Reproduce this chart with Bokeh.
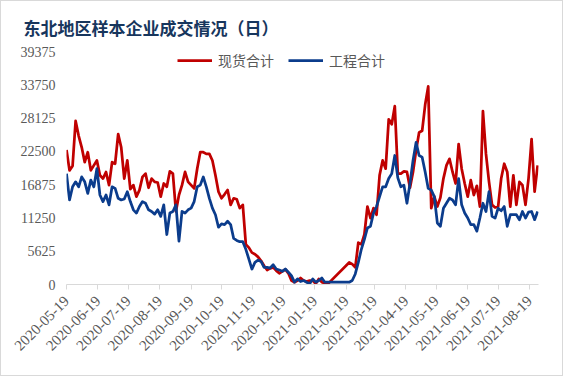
import math
import pandas as pd
from bokeh.plotting import figure
from bokeh.models import (ColumnDataSource, FixedTicker, Legend, LegendItem, Range1d,
                          NumeralTickFormatter, DatetimeTickFormatter)
from bokeh.embed import file_html
from bokeh.resources import INLINE

title_text = "东北地区样本企业成交情况（日）"
series_names = ["现货合计", "工程合计"]

dates = [
    "2020-05-19", "2020-05-22", "2020-05-25", "2020-05-28", "2020-05-31", "2020-06-03", "2020-06-06",
    "2020-06-09", "2020-06-12", "2020-06-15", "2020-06-18", "2020-06-21", "2020-06-24", "2020-06-27",
    "2020-06-30", "2020-07-03", "2020-07-06", "2020-07-09", "2020-07-12", "2020-07-15", "2020-07-18",
    "2020-07-21", "2020-07-24", "2020-07-27", "2020-07-30", "2020-08-02", "2020-08-05", "2020-08-08",
    "2020-08-11", "2020-08-14", "2020-08-17", "2020-08-20", "2020-08-23", "2020-08-26", "2020-08-29",
    "2020-09-01", "2020-09-04", "2020-09-07", "2020-09-10", "2020-09-13", "2020-09-16", "2020-09-19",
    "2020-09-22", "2020-09-25", "2020-09-28", "2020-10-01", "2020-10-04", "2020-10-07", "2020-10-10",
    "2020-10-13", "2020-10-16", "2020-10-19", "2020-10-22", "2020-10-25", "2020-10-28", "2020-10-31",
    "2020-11-03", "2020-11-06", "2020-11-09", "2020-11-12", "2020-11-15", "2020-11-18", "2020-11-21",
    "2020-11-24", "2020-11-27", "2020-11-30", "2020-12-03", "2020-12-06", "2020-12-09", "2020-12-12",
    "2020-12-15", "2020-12-18", "2020-12-21", "2020-12-24", "2020-12-27", "2020-12-30", "2021-01-02",
    "2021-01-05", "2021-01-08", "2021-01-11", "2021-01-14", "2021-01-17", "2021-01-20", "2021-01-23",
    "2021-01-26", "2021-01-29", "2021-02-01", "2021-02-22", "2021-02-25", "2021-02-28", "2021-03-03",
    "2021-03-06", "2021-03-09", "2021-03-12", "2021-03-15", "2021-03-18", "2021-03-21", "2021-03-24",
    "2021-03-27", "2021-03-30", "2021-04-02", "2021-04-05", "2021-04-08", "2021-04-11", "2021-04-14",
    "2021-04-17", "2021-04-20", "2021-04-23", "2021-04-26", "2021-04-29", "2021-05-02", "2021-05-05",
    "2021-05-08", "2021-05-11", "2021-05-14", "2021-05-17", "2021-05-20", "2021-05-23", "2021-05-26",
    "2021-05-29", "2021-06-01", "2021-06-04", "2021-06-07", "2021-06-10", "2021-06-13", "2021-06-16",
    "2021-06-19", "2021-06-22", "2021-06-25", "2021-06-28", "2021-07-01", "2021-07-04", "2021-07-07",
    "2021-07-10", "2021-07-13", "2021-07-16", "2021-07-19", "2021-07-22", "2021-07-25", "2021-07-28",
    "2021-07-31", "2021-08-03", "2021-08-06", "2021-08-09", "2021-08-12", "2021-08-15", "2021-08-18",
    "2021-08-21", "2021-08-24", "2021-08-27",
]

spot_total = [
    22740, 19290, 20020, 27640, 25130, 23190, 20680,
    22350, 19290, 20130, 20960, 18460, 17900, 19020,
    16790, 20680, 20410, 25410, 23190, 17900, 20960,
    16120, 16790, 14850, 15960, 18180, 18740, 16350,
    17900, 17350, 17240, 14850, 17070, 16510, 19130,
    18740, 12340, 15120, 16790, 19020, 17350, 16790,
    16240, 19570, 22350, 22350, 22070, 22070, 20960,
    18460, 15680, 14570, 15240, 15960, 13460, 14570,
    14400, 12900, 13460, 6780, 6230, 5390, 5120,
    4670, 4000, 3170, 2450, 2720, 2890, 2340,
    1890, 2220, 2560, 1890, 670, 390, 670,
    1110, 670, 500, 670, 670, 110, 950,
    390, 220, 110, 3730, 3450, 2890, 7060,
    6780, 8450, 13180, 11230, 12900, 11790, 18460,
    20960, 19570, 27910, 27080, 30140, 18740, 18740,
    19130, 19020, 16350, 19020, 22630, 25690, 25970,
    30410, 33470, 12900, 14850, 13180, 14680, 17900,
    20130, 21240, 19020, 17070, 23740, 19570, 17070,
    14850, 17630, 15120, 16680, 13180, 29300, 22070,
    17350, 13460, 13010, 13180, 17900, 20410, 19020,
    13180, 18460, 13460, 17350, 16790, 13460, 17900,
    24580, 15680, 20130,
]

project_total = [
    18740, 14290, 16510, 17350, 16510, 18180, 17350,
    15400, 17630, 16510, 19570, 15120, 14010, 15120,
    13460, 16510, 16240, 14570, 14290, 14460, 15680,
    14010, 12620, 12070, 13180, 14010, 13730, 12620,
    12340, 11900, 12620, 11510, 13460, 8450, 12070,
    12340, 13460, 7340, 12340, 12070, 12620, 12900,
    14010, 16510, 16790, 18180, 16510, 14570, 12900,
    11790, 9680, 10240, 10120, 10680, 10120, 7780,
    7450, 7230, 7230, 5950, 4280, 2610, 3730,
    4110, 3890, 2890, 2890, 2780, 3340, 2610,
    2450, 2220, 2610, 2060, 1500, 390, 950,
    500, 670, 390, 110, 950, 390, 670,
    1110, 390, 390, 390, 670, 1780, 3730,
    5950, 7620, 9560, 9840, 12070, 13180, 14850,
    16510, 16510, 17900, 18740, 21800, 18010, 16510,
    16790, 13730, 17070, 20960, 24020, 21800, 21520,
    19020, 16240, 15960, 14850, 10400, 9840, 12900,
    13730, 14570, 14290, 13460, 17900, 13460, 12070,
    11230, 10120, 10120, 9010, 11230, 13730, 12340,
    15680, 11510, 11230, 12900, 12450, 13180, 9840,
    11790, 11790, 11790, 10950, 12340, 11230, 12230,
    12340, 10950, 12340,
]

tick_labels = [
    "2020-05-19", "2020-06-19", "2020-07-19", "2020-08-19", "2020-09-19", "2020-10-19",
    "2020-11-19", "2020-12-19", "2021-01-19", "2021-02-19", "2021-03-19", "2021-04-19",
    "2021-05-19", "2021-06-19", "2021-07-19", "2021-08-19",
]
y_ticks = [0, 5625, 11250, 16875, 22500, 28125, 33750, 39375]

x_vals = pd.to_datetime(dates)
src = ColumnDataSource(dict(x=x_vals, spot=spot_total, proj=project_total))

x_start = pd.Timestamp(tick_labels[0])
x_end = pd.Timestamp(dates[-1]) + pd.Timedelta(hours=20)

p = figure(width=563, height=376, x_axis_type="datetime",
           x_range=Range1d(x_start, x_end), y_range=Range1d(0, y_ticks[-1]),
           output_backend="svg", toolbar_location=None,
           min_border_left=65, min_border_right=26, min_border_top=47, min_border_bottom=93)
p.styles = {"border": "1px solid #D9D9D9"}
p.outline_line_color = None
p.xgrid.visible = False
p.ygrid.visible = False
p.background_fill_color = "white"
p.border_fill_color = "white"

p.title.text = title_text
p.title.align = "left"
p.title.offset = -43
p.title.standoff = 23
p.title.text_font = "Noto Sans CJK SC"
p.title.text_font_style = "bold"
p.title.text_font_size = "17px"
p.title.text_color = "#17365D"

RED = "#C00000"
BLUE = "#0B3C8C"
r1 = p.line("x", "spot", source=src, line_color=RED, line_width=2.75, line_join="round")
r2 = p.line("x", "proj", source=src, line_color=BLUE, line_width=2.75, line_join="round")

tick_ms = [int(pd.Timestamp(t).value // 10**6) for t in tick_labels]
p.xaxis.ticker = FixedTicker(ticks=tick_ms)
fmt = "%Y-%m-%d"
p.xaxis.formatter = DatetimeTickFormatter(microseconds=fmt, milliseconds=fmt, seconds=fmt,
                                          minsec=fmt, minutes=fmt, hourmin=fmt, hours=fmt,
                                          days=fmt, months=fmt, years=fmt)
p.xaxis.major_label_orientation = math.pi / 4
p.xaxis.axis_line_color = "#D9D9D9"
p.xaxis.axis_line_width = 1
p.xaxis.major_tick_line_color = "#D9D9D9"
p.xaxis.major_tick_out = 5
p.xaxis.major_tick_in = 0
p.xaxis.minor_tick_line_color = None
p.xaxis.major_label_standoff = 9

p.yaxis.ticker = FixedTicker(ticks=y_ticks)
p.yaxis.formatter = NumeralTickFormatter(format="0")
p.yaxis.axis_line_color = None
p.yaxis.major_tick_line_color = None
p.yaxis.minor_tick_line_color = None
p.yaxis.major_tick_out = 0
p.yaxis.major_tick_in = 0
p.yaxis.major_label_standoff = 11

for ax in (p.xaxis, p.yaxis):
    ax.major_label_text_font = "Liberation Serif"
    ax.major_label_text_color = "#595959"
p.yaxis.major_label_text_font_size = "14px"
p.xaxis.major_label_text_font_size = "15px"

legend = Legend(items=[LegendItem(label=series_names[0], renderers=[r1]),
                       LegendItem(label=series_names[1], renderers=[r2])],
                orientation="horizontal", location=(111, 214),
                glyph_width=35, glyph_height=20, label_standoff=6, spacing=14,
                padding=0, margin=0, border_line_color=None, background_fill_alpha=0,
                label_text_font="Noto Sans CJK SC", label_text_font_size="14px",
                label_text_color="#595959")
p.add_layout(legend)

open("out.html", "w").write(file_html(p, INLINE))
